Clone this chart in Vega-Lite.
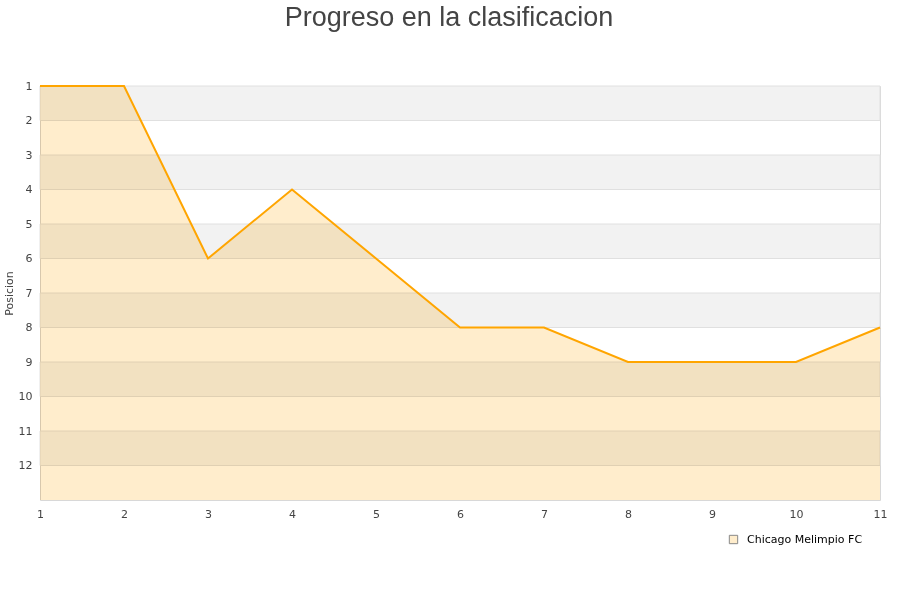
{
  "$schema": "https://vega.github.io/schema/vega-lite/v6.json",
  "autosize": "none",
  "width": 840,
  "height": 414,
  "padding": {"left": 40, "top": 86, "right": 20, "bottom": 100},
  "background": "white",
  "title": {
    "text": "Progreso en la clasificacion",
    "font": "Liberation Sans",
    "fontSize": 27,
    "fontWeight": "normal",
    "color": "#444444",
    "anchor": "middle",
    "dx": -11,
    "offset": 48
  },
  "config": {
    "view": {"stroke": "#d8d8d8", "strokeWidth": 1},
    "axis": {
      "labelFont": "DejaVu Sans",
      "labelFontSize": 11,
      "labelColor": "#444444",
      "titleFont": "DejaVu Sans",
      "titleFontSize": 11,
      "titleFontWeight": "normal",
      "titleColor": "#444444",
      "domain": false,
      "ticks": false,
      "grid": false,
      "labelOverlap": false,
      "format": "d"
    }
  },
  "datasets": {
    "bandas": [
      {"desde": 1, "hasta": 2},
      {"desde": 3, "hasta": 4},
      {"desde": 5, "hasta": 6},
      {"desde": 7, "hasta": 8},
      {"desde": 9, "hasta": 10},
      {"desde": 11, "hasta": 12}
    ],
    "posiciones": [
      {"jornada": 1, "posicion": 1, "equipo": "Chicago Melimpio FC"},
      {"jornada": 2, "posicion": 1, "equipo": "Chicago Melimpio FC"},
      {"jornada": 3, "posicion": 6, "equipo": "Chicago Melimpio FC"},
      {"jornada": 4, "posicion": 4, "equipo": "Chicago Melimpio FC"},
      {"jornada": 5, "posicion": 6, "equipo": "Chicago Melimpio FC"},
      {"jornada": 6, "posicion": 8, "equipo": "Chicago Melimpio FC"},
      {"jornada": 7, "posicion": 8, "equipo": "Chicago Melimpio FC"},
      {"jornada": 8, "posicion": 9, "equipo": "Chicago Melimpio FC"},
      {"jornada": 9, "posicion": 9, "equipo": "Chicago Melimpio FC"},
      {"jornada": 10, "posicion": 9, "equipo": "Chicago Melimpio FC"},
      {"jornada": 11, "posicion": 8, "equipo": "Chicago Melimpio FC"}
    ]
  },
  "layer": [
    {
      "data": {"name": "bandas"},
      "mark": {"type": "rect", "fill": "#f2f2f2", "stroke": "#e0e0e0", "strokeWidth": 1},
      "encoding": {
        "y": {
          "field": "desde",
          "type": "quantitative",
          "scale": {"domain": [1, 13], "reverse": true, "nice": false, "zero": false},
          "axis": {
            "title": "Posicion",
            "values": [1, 2, 3, 4, 5, 6, 7, 8, 9, 10, 11, 12],
            "labelPadding": 8,
            "titlePadding": 4,
            "labelFlush": false,
            "labelOverlap": false
          }
        },
        "y2": {"field": "hasta"}
      }
    },
    {
      "data": {"name": "posiciones"},
      "mark": {"type": "area", "fillOpacity": 1, "blend": "multiply", "interpolate": "linear"},
      "encoding": {
        "x": {
          "field": "jornada",
          "type": "quantitative",
          "scale": {"domain": [1, 11], "nice": false, "zero": false},
          "axis": {
            "title": null,
            "values": [1, 2, 3, 4, 5, 6, 7, 8, 9, 10, 11],
            "labelPadding": 8,
            "labelFlush": false,
            "labelOverlap": false
          }
        },
        "y": {
          "field": "posicion",
          "type": "quantitative",
          "axis": {
            "title": "Posicion",
            "values": [1, 2, 3, 4, 5, 6, 7, 8, 9, 10, 11, 12],
            "labelPadding": 8,
            "titlePadding": 4,
            "labelFlush": false,
            "labelOverlap": false
          }
        },
        "y2": {"datum": 13},
        "color": {
          "field": "equipo",
          "type": "nominal",
          "scale": {"range": ["#ffedcc"]},
          "legend": {
            "title": null,
            "orient": "none",
            "legendX": 688,
            "legendY": 448,
            "padding": 0,
            "symbolType": "square",
            "symbolSize": 70,
            "symbolStrokeColor": "#888888",
            "symbolStrokeWidth": 1,
            "labelFont": "DejaVu Sans",
            "labelFontSize": 11,
            "labelColor": "#000000",
            "labelOffset": 8
          }
        }
      }
    },
    {
      "data": {"name": "posiciones"},
      "mark": {"type": "line", "color": "#ffa500", "strokeWidth": 2},
      "encoding": {
        "x": {
          "field": "jornada",
          "type": "quantitative",
          "axis": {
            "title": null,
            "values": [1, 2, 3, 4, 5, 6, 7, 8, 9, 10, 11],
            "labelPadding": 8,
            "labelFlush": false,
            "labelOverlap": false
          }
        },
        "y": {
          "field": "posicion",
          "type": "quantitative",
          "axis": {
            "title": "Posicion",
            "values": [1, 2, 3, 4, 5, 6, 7, 8, 9, 10, 11, 12],
            "labelPadding": 8,
            "titlePadding": 4,
            "labelFlush": false,
            "labelOverlap": false
          }
        }
      }
    }
  ]
}
